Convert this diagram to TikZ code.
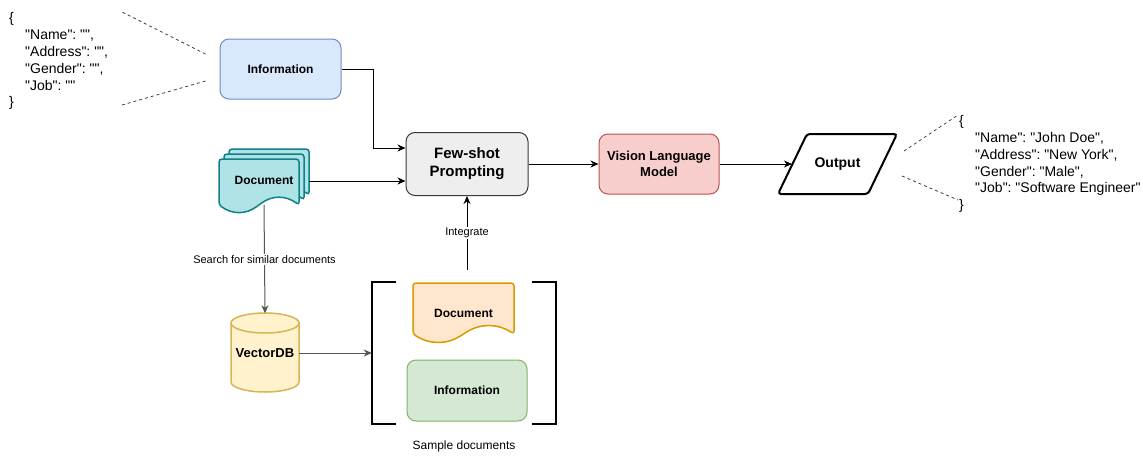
\documentclass[tikz,border=0pt]{standalone}
\usepackage{fontspec}
\setmainfont{Liberation Sans}[Ligatures=TeXOff]
\usetikzlibrary{arrows.meta,calc}
\definecolor{infoF}{HTML}{DAE8FC}\definecolor{infoD}{HTML}{6C8EBF}
\definecolor{fewF}{HTML}{EEEEEE}\definecolor{fewD}{HTML}{36393D}
\definecolor{vlmF}{HTML}{F8CECC}\definecolor{vlmD}{HTML}{B85450}
\definecolor{tealF}{HTML}{B0E3E6}\definecolor{tealD}{HTML}{0E8088}
\definecolor{orgF}{HTML}{FFE6CC}\definecolor{orgD}{HTML}{D79B00}
\definecolor{grnF}{HTML}{D5E8D4}\definecolor{grnD}{HTML}{82B366}
\definecolor{dbF}{HTML}{FFF2CC}\definecolor{dbD}{HTML}{D6B656}
\definecolor{lineG}{HTML}{555555}
\newcommand{\mydoc}[5]{%
 \draw[#1] (#2,#3) -- ({#2+#4},#3) -- ({#2+#4},{#3+0.85*#5})
  .. controls ({#2+5*#4/6},{#3+0.67*#5}) and ({#2+2*#4/3},{#3+0.67*#5}) .. ({#2+#4/2},{#3+0.85*#5})
  .. controls ({#2+#4/3},{#3+1.03*#5}) and ({#2+#4/6},{#3+1.03*#5}) .. (#2,{#3+0.85*#5}) -- cycle;}
\tikzset{
 box/.style={rectangle, rounded corners=9pt, line width=1pt, align=center, font=\bfseries\fontsize{12}{14}\selectfont, inner sep=0pt},
 ghost/.style={rectangle, inner sep=0pt, align=center},
 arr/.style={line width=1pt, -{Stealth[length=8pt,width=7pt,inset=2.5pt]}},
 garr/.style={arr, draw=lineG},
 dashln/.style={line width=0.8pt, dash pattern=on 3pt off 3pt, draw=black!75},
 lbl/.style={fill=white, inner sep=1.5pt, font=\fontsize{11}{13}\selectfont},
 json/.style={align=left, inner sep=0pt, anchor=north west, font=\fontsize{14}{16.8}\selectfont},
}
\begin{document}
\frenchspacing
\begin{tikzpicture}[x=1pt,y=-1pt]
\useasboundingbox (0,0) rectangle (1143,458);
\fill[white] (0,0) rectangle (1143,458);

% JSON blocks
\node[json] (ljson) at (9,12.5) {\{\\\hspace*{16pt}"Name": "",\\\hspace*{16pt}"Address": "",\\\hspace*{16pt}"Gender": "",\\\hspace*{16pt}"Job": ""\\\}};
\node[json] (rjson) at (959,115.3) {\{\\\hspace*{16pt}"Name": "John Doe",\\\hspace*{16pt}"Address": "New York",\\\hspace*{16pt}"Gender": "Male",\\\hspace*{16pt}"Job": "Software Engineer"\\\}};

% Information (blue)
\node[box, fill=infoF, draw=infoD, minimum width=121pt, minimum height=60pt] (info) at (280.5,69) {Information};

% Few-shot
\node[box, fill=fewF, draw=fewD, minimum width=122pt, minimum height=63pt, font=\bfseries\fontsize{15}{18}\selectfont] (few) at (467,164) {Few-shot\\Prompting};

% VLM
\node[box, fill=vlmF, draw=vlmD, minimum width=120pt, minimum height=60pt, font=\bfseries\fontsize{13}{16}\selectfont] (vlm) at (659,164) {Vision Language\\Model};

% Output parallelogram
\draw[line width=2pt, rounded corners=3pt, fill=white] (778,194) -- (807,134) -- (897,134) -- (868,194) -- cycle;
\node[ghost, minimum width=119pt, minimum height=60pt, font=\bfseries\fontsize{14}{16}\selectfont] (out) at (837.5,164) {Output};
\coordinate (outL) at (792,164);
\coordinate (outU) at (904,151);
\coordinate (outD) at (902,176);

% Multi document (teal)
\mydoc{fill=tealF, draw=tealD, line width=1.5pt, rounded corners=3pt}{229}{149}{80}{54}
\mydoc{fill=tealF, draw=tealD, line width=1.5pt, rounded corners=3pt}{224}{154}{80}{54}
\mydoc{fill=tealF, draw=tealD, line width=1.5pt, rounded corners=3pt}{219}{159}{80}{54}
\node[ghost, minimum width=90pt, minimum height=64pt] (docs) at (264,181) {};
\node[font=\bfseries\fontsize{12}{14}\selectfont, inner sep=0pt] (docstxt) at (264,180) {Document};
\coordinate (docb) at (264,205);

% VectorDB cylinder
\draw[fill=dbF, draw=dbD, line width=1.5pt] (231,323) -- (231,382) arc[start angle=180, end angle=360, x radius=34pt, y radius=10pt] -- (299,323) arc[start angle=0, end angle=180, x radius=34pt, y radius=10pt] -- cycle;
\draw[draw=dbD, line width=1.5pt] (231,323) arc[start angle=180, end angle=360, x radius=34pt, y radius=10pt];
\node[ghost, minimum width=68pt, minimum height=79pt, font=\bfseries\fontsize{13}{15}\selectfont] (vdb) at (265,353) {VectorDB};

% Sample documents bracket group
\draw[line width=1.5pt] (396,282) -- (372,282) -- (372,424) -- (396,424);
\draw[line width=1.5pt] (532,282) -- (556,282) -- (556,424) -- (532,424);
\node[ghost, minimum width=184pt, minimum height=142pt] (samp) at (464,353) {};
\mydoc{fill=orgF, draw=orgD, line width=1.5pt, rounded corners=3pt}{413}{283}{101}{60}
\node[font=\bfseries\fontsize{12}{14}\selectfont, inner sep=0pt] (doc2) at (463.5,313) {Document};
\node[box, fill=grnF, draw=grnD, minimum width=120pt, minimum height=61pt] (info2) at (467,390.5) {Information};
\node[font=\fontsize{12}{14}\selectfont, inner sep=0pt] (samplbl) at (464,446) {Sample documents};
\coordinate (integ) at (467,270);

% Connectors
\coordinate (bend) at (373,148);
\draw[arr] (info.east) -| (bend) -- (bend -| few.west);
\draw[arr] (docs.east) -- (docs.east -| few.west);
\draw[arr] (few.east) -- (vlm.west);
\draw[arr] (vlm.east) -- (outL);
\draw[arr] (integ) -- node[lbl] {Integrate} (few.south);
\draw[garr] (docb) -- node[lbl] {Search for similar documents} (vdb.north);
\draw[garr] (vdb.east) -- (samp.west);

% Dashed callouts
\coordinate (lj1) at (122,12);
\coordinate (lj2) at (122,105);
\draw[dashln] ($(info.west)+(-14,-15)$) -- (lj1);
\draw[dashln] ($(info.west)+(-14,12)$) -- (lj2);
\coordinate (rj1) at (958,115);
\coordinate (rj2) at (958,200);
\draw[dashln] (outU) -- (rj1);
\draw[dashln] (outD) -- (rj2);
\end{tikzpicture}
\end{document}
